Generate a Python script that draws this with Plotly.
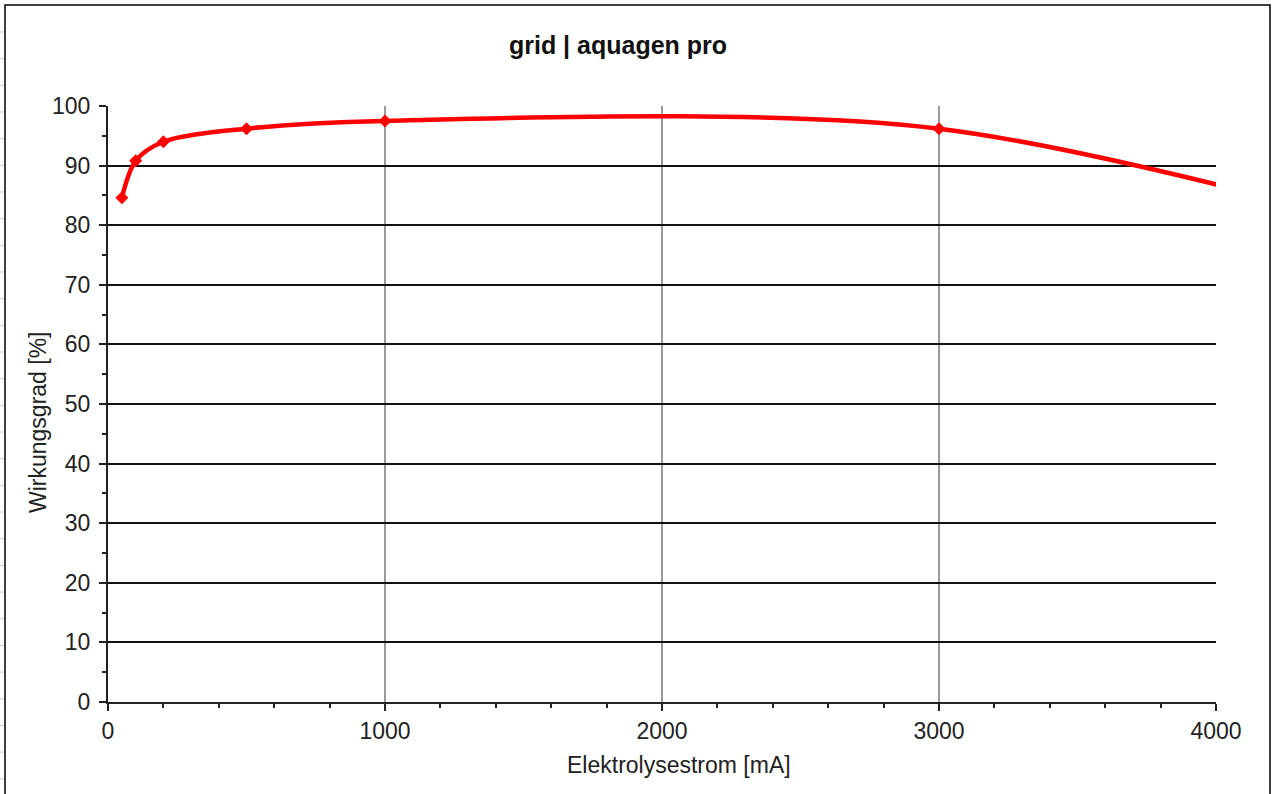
import plotly.graph_objects as go

# Data
current_ma = [50, 100, 200, 500, 1000, 3000, 5000]
efficiency_pct = [84.6, 90.8, 94.0, 96.2, 97.5, 96.2, 74.5]

x_ticks = [0, 1000, 2000, 3000, 4000]
y_ticks = [0, 10, 20, 30, 40, 50, 60, 70, 80, 90, 100]

title_text = "grid | aquagen pro"
x_title = "Elektrolysestrom [mA]"
y_title = "Wirkungsgrad [%]"

FONT = "Liberation Sans, Arial, sans-serif"

fig = go.Figure()
fig.add_trace(go.Scatter(
    x=current_ma, y=efficiency_pct,
    mode="lines+markers",
    line=dict(color="#ff0000", width=4.5, shape="spline", smoothing=0.9),
    marker=dict(symbol="diamond", size=10, color="#ff0000"),
    cliponaxis=True,
    showlegend=False,
))

shapes = [
    # outer chart frame
    dict(type="rect", xref="paper", yref="paper",
         x0=(5 - 108) / 1108, x1=(1270 - 108) / 1108, y0=-200 / 596, y1=(702 - 5) / 596,
         line=dict(color="#000000", width=1.5), fillcolor="rgba(0,0,0,0)", layer="below"),
]
# spreadsheet row marks at far left edge
for k in range(30):
    ypx = 32 + 26.67 * k
    if ypx > 794:
        break
    yp = (702 - ypx) / 596
    shapes.append(dict(type="line", xref="paper", yref="paper",
                       x0=-108 / 1108, x1=-104 / 1108, y0=yp, y1=yp,
                       line=dict(color="#c8c8c8", width=1)))

fig.update_layout(
    width=1274, height=794,
    margin=dict(l=108, r=58, t=106, b=92),
    paper_bgcolor="white", plot_bgcolor="white",
    font=dict(family=FONT, size=23, color="#222222"),
    title=dict(text="<b>" + title_text + "</b>", x=618 / 1274, xanchor="center",
               y=1 - 45 / 794, yanchor="middle",
               font=dict(family=FONT, size=25, color="#111111")),
    shapes=shapes,
    annotations=[
        dict(text=y_title, xref="paper", yref="paper", x=(38 - 108) / 1108, y=(702 - 422) / 596,
             xanchor="center", yanchor="middle", textangle=-90, showarrow=False,
             font=dict(family=FONT, size=23, color="#222222")),
        dict(text=x_title, xref="paper", yref="paper", x=(679 - 108) / 1108, y=(702 - 765) / 596,
             xanchor="center", yanchor="middle", showarrow=False,
             font=dict(family=FONT, size=23, color="#222222")),
    ],
)

fig.update_xaxes(
    range=[0, 4000], tickvals=x_ticks, ticktext=[str(v) for v in x_ticks],
    showline=True, linecolor="#222222", linewidth=2,
    showgrid=True, gridcolor="#9a9a9a", gridwidth=2,
    ticks="outside", ticklen=7, tickwidth=2, tickcolor="#222222",
    minor=dict(dtick=200, ticks="outside", ticklen=4, tickwidth=2, tickcolor="#222222", showgrid=False),
    zeroline=False, mirror=False,
)
fig.update_yaxes(
    range=[0, 100], tickvals=y_ticks, ticktext=[str(v) for v in y_ticks],
    showline=True, linecolor="#222222", linewidth=2,
    showgrid=True, gridcolor="#111111", gridwidth=2,
    ticks="outside", ticklen=7, tickwidth=2, tickcolor="#222222",
    ticklabelstandoff=4,
    minor=dict(dtick=5, ticks="outside", ticklen=4, tickwidth=2, tickcolor="#222222", showgrid=False),
    zeroline=False, mirror=False,
)

fig.write_html("out.html", config={"displayModeBar": False},
               post_script="document.body.style.margin='0';")
